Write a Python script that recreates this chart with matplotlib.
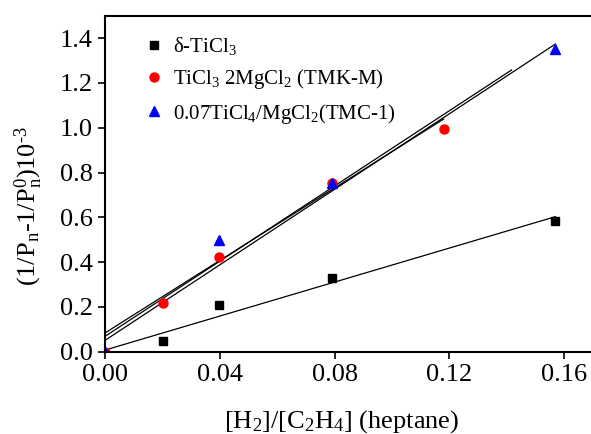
import numpy as np
import matplotlib.pyplot as plt

plt.rcParams['font.family'] = 'Liberation Serif'
plt.rcParams['mathtext.fontset'] = 'custom'
plt.rcParams['mathtext.rm'] = 'Liberation Serif'
plt.rcParams['mathtext.it'] = 'Liberation Serif:italic'

# data
x_tic = [0.020, 0.0395, 0.079, 0.157]
y_tic = [0.048, 0.208, 0.33, 0.585]

x_tmk = [0.0, 0.020, 0.0395, 0.079, 0.118]
y_tmk = [0.0, 0.217, 0.425, 0.752, 0.994]

x_tmc = [0.0, 0.0395, 0.079, 0.157]
y_tmc = [0.0, 0.50, 0.752, 1.35]

# fitted lines: intercept, end x, end y
fit_b = [0.008, 0.052, 0.070, 0.085]
fit_xend = [0.157, 0.157, 0.1417, 0.118]
fit_yend = [0.603, 1.374, 1.258, 1.039]

fig = plt.figure(figsize=(5.91, 4.34), dpi=100)
ax = fig.add_axes([0.1785, 0.1896, 0.8243, 0.774])

for b, xe, ye in zip(fit_b, fit_xend, fit_yend):
    ax.plot([0, xe], [b, ye], color='black', lw=0.9)

ax.plot(x_tic, y_tic, 's', color='black', ms=5.5, ls='none', label=r'$\mathrm{\delta}$-TiCl$_3$')
ax.plot(x_tmk, y_tmk, 'o', color='red', ms=6.5, ls='none', label=r'TiCl$_3$ 2MgCl$_2$ (TMK-M)')
ax.plot(x_tmc, y_tmc, '^', color='blue', ms=6.5, ls='none', label=r'0.07TiCl$_4$/MgCl$_2$(TMC-1)')

ax.set_xlim(0, 0.17)
ax.set_ylim(0, 1.5)
ax.set_xticks([0.00, 0.04, 0.08, 0.12, 0.16])
ax.set_yticks(np.arange(0, 1.41, 0.2))
ax.xaxis.set_major_formatter(plt.FormatStrFormatter('%.2f'))
ax.yaxis.set_major_formatter(plt.FormatStrFormatter('%.1f'))
ax.tick_params(direction='out', length=5, width=1.2, labelsize=19)
ax.tick_params(axis='y', pad=4)
for s in ax.spines.values():
    s.set_linewidth(1.5)

ax.set_xlabel(r'[H$_2$]/[C$_2$H$_4$] (heptane)', fontsize=19)
ax.set_ylabel(r'(1/P$_\mathrm{n}$-1/P$_\mathrm{n}^\mathrm{0}$)10$^{\text{-3}}$', fontsize=19)
ax.xaxis.set_label_coords(0.484, -0.168)
ax.yaxis.set_label_coords(-0.125, 0.434)

ax.legend(loc='upper left', frameon=False, fontsize=15, handlelength=1.0,
          handletextpad=0.4, labelspacing=0.5, borderaxespad=0,
          bbox_to_anchor=(0.062, 0.968))

fig.savefig('out.png', dpi=100)
